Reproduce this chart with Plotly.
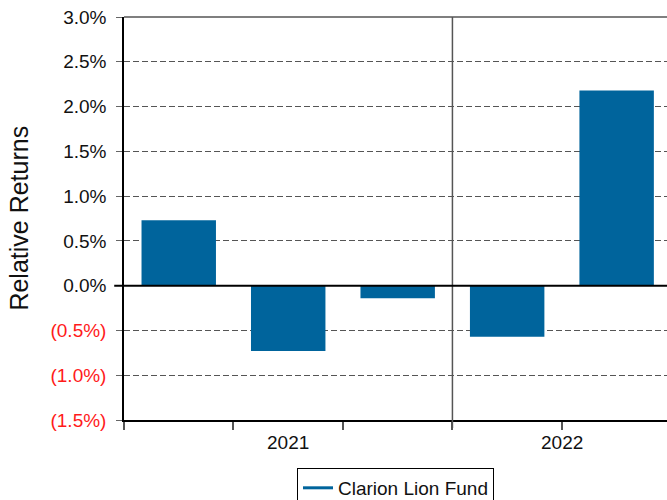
import plotly.graph_objects as go

# ---- data ----
periods = ["2021 P1", "2021 P2", "2021 P3", "2022 P1", "2022 P2"]
years = ["2021", "2021", "2021", "2022", "2022"]
returns = [0.73, -0.73, -0.14, -0.57, 2.18]
series_name = "Clarion Lion Fund"
ytick_vals = [-1.5, -1.0, -0.5, 0.0, 0.5, 1.0, 1.5, 2.0, 2.5, 3.0]

BAR = "#00649C"
RED = "#FF1A1A"
FONT = "Arial, Liberation Sans, sans-serif"


def fmt(v):
    if v < 0:
        return f"<span style='color:{RED}'>({abs(v):.1f}%)</span>"
    return f"{v:.1f}%"


ytick_text = [fmt(v) for v in ytick_vals]

fig = go.Figure()
fig.add_trace(go.Bar(
    x=periods, y=returns, marker=dict(color=BAR, line=dict(width=0)),
    width=0.68, showlegend=False, hoverinfo="y",
))
fig.add_trace(go.Scatter(
    x=[None], y=[None], mode="lines", name=series_name,
    line=dict(color=BAR, width=3),
))

# group labels & separators derived from data
uniq_years = []
for y in years:
    if y not in uniq_years:
        uniq_years.append(y)
annotations = []
shapes = []
for yr in uniq_years:
    idx = [i for i, y in enumerate(years) if y == yr]
    annotations.append(dict(
        x=sum(idx) / len(idx), y=0, xref="x", yref="paper",
        text=yr, showarrow=False, yanchor="middle", yshift=-22,
        font=dict(size=19, color="#111", family=FONT),
    ))
    if idx[0] > 0:
        shapes.append(dict(
            type="line", xref="x", yref="paper", x0=idx[0] - 0.5, x1=idx[0] - 0.5,
            y0=-0.02, y1=1, line=dict(color="#555", width=1.5), layer="above",
        ))

# top frame line
shapes.append(dict(type="line", xref="paper", yref="paper", x0=0, x1=1, y0=1, y1=1,
                   line=dict(color="#555", width=1.5)))
# zero line (extends past axis like tick)
shapes.append(dict(type="line", xref="paper", yref="y", x0=-0.018, x1=1, y0=0, y1=0,
                   line=dict(color="black", width=2), layer="above"))

annotations.append(dict(
    x=-0.195, y=0.5, xref="paper", yref="paper", text="Relative Returns",
    textangle=-90, showarrow=False, xanchor="center", yanchor="middle",
    font=dict(size=25, color="#111", family=FONT),
))

fig.update_layout(
    width=667, height=500,
    margin=dict(l=124, r=0, t=17, b=80, autoexpand=False),
    plot_bgcolor="white", paper_bgcolor="white",
    font=dict(family=FONT, color="#111"),
    bargap=0.32,
    xaxis=dict(
        type="category", range=[-0.5, 4.46], showgrid=False, zeroline=False,
        showline=True, linecolor="black", linewidth=1.5,
        tickson="boundaries", ticks="outside", ticklen=8, tickcolor="#555",
        tickwidth=1.5, showticklabels=False, fixedrange=True,
    ),
    yaxis=dict(
        range=[-1.5, 3.0], tickvals=ytick_vals, ticktext=ytick_text,
        showgrid=True, gridcolor="#555", griddash="6px,3px", gridwidth=1,
        zeroline=False, showline=True, linecolor="black", linewidth=1.5,
        ticks="outside", ticklen=6, tickcolor="#666", tickwidth=1,
        ticklabelstandoff=6,
        tickfont=dict(size=19, color="#111", family=FONT),
    ),
    legend=dict(
        x=0.5, xanchor="center", y=-0.119, yanchor="top", orientation="h",
        bordercolor="black", borderwidth=1,
        font=dict(size=19, color="#111", family=FONT),
    ),
    annotations=annotations, shapes=shapes,
)

fig.write_html(
    "out.html",
    config={"displayModeBar": False},
    post_script="document.body.style.margin='0';document.body.style.overflow='hidden';",
)
